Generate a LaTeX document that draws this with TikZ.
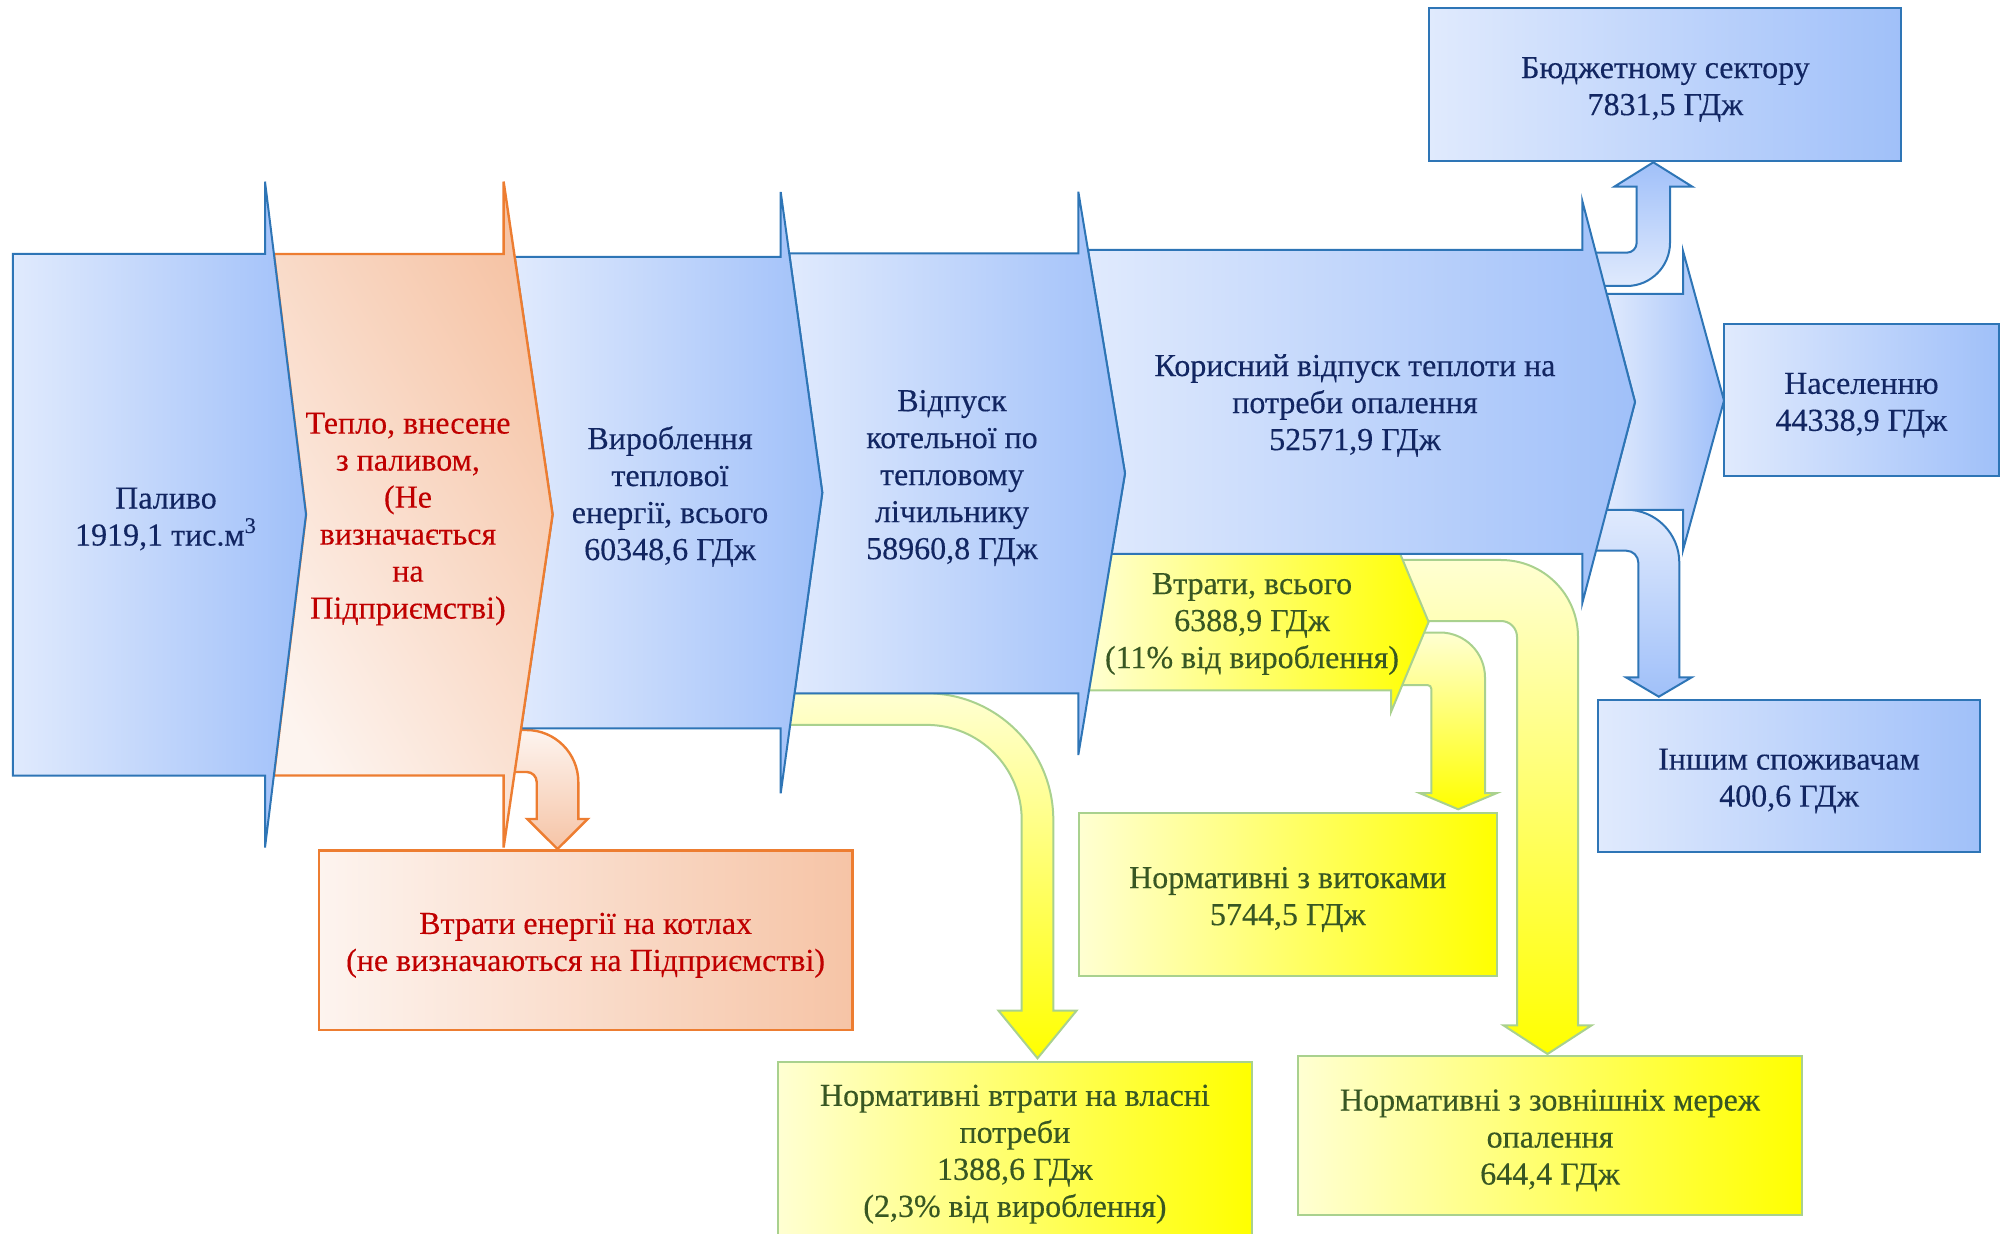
\documentclass[tikz,border=0pt]{standalone}
\usepackage{fontspec}
\setmainfont{Liberation Serif}[FakeBold=0.3]
\definecolor{blueL}{RGB}{224,234,253}
\definecolor{blueD}{RGB}{160,192,249}
\definecolor{blueLine}{RGB}{46,117,182}
\definecolor{navy}{RGB}{18,38,98}
\definecolor{orLine}{RGB}{237,125,49}
\definecolor{orL}{RGB}{253,244,239}
\definecolor{orD}{RGB}{246,196,166}
\definecolor{redT}{RGB}{192,0,0}
\definecolor{yeL}{RGB}{255,255,210}
\definecolor{yeD}{RGB}{255,255,0}
\definecolor{yeLine}{RGB}{169,209,142}
\definecolor{greenT}{RGB}{56,87,35}
\newcommand\pxu{0.5pt}
\begin{document}
\begin{tikzpicture}[x=0.5pt,y=-0.5pt,
  font=\rmfamily\fontsize{16}{18.5}\selectfont,
  bshape/.style={draw=blueLine, line width=1pt, left color=blueL, right color=blueD},
  yshape/.style={draw=yeLine, line width=1pt, left color=yeL, right color=yeD},
  bbox/.style={bshape, rectangle, inner sep=0pt},
  ybox/.style={yshape, rectangle, inner sep=0pt},
  obox/.style={draw=orLine, line width=1.2pt, left color=orL, right color=orD, rectangle, inner sep=0pt},
  tb/.style={text=navy, align=center, inner sep=0pt},
  tr/.style={text=redT, align=center, inner sep=0pt},
  tg/.style={text=greenT, align=center, inner sep=0pt},
  ybend/.style={draw=yeLine, line width=1pt, top color=yeL, bottom color=yeD},
  bbendup/.style={draw=blueLine, line width=1pt, top color=blueD, bottom color=blueL},
  bbenddown/.style={draw=blueLine, line width=1pt, top color=blueL, bottom color=blueD},
  obend/.style={draw=orLine, line width=1.2pt, top color=orL, bottom color=orD}]
\useasboundingbox (0,0) rectangle (2005,1234);
\clip (0,0) rectangle (2005,1234);

% ---------- bent arrows (behind the chevrons) ----------
% A: orange, heat -> boiler losses
\path[obend] (505,730) -- (526.3,730) arc[start angle=-90,end angle=0,radius=52]
  -- (578.3,819) -- (587.7,819) -- (557.5,849) -- (527.3,819) -- (536.7,819)
  -- (536.7,782) arc[start angle=0,end angle=-90,radius=10] -- (505,772) -- cycle;
% B: yellow, release -> own needs
\path[ybend] (785,693.3) -- (926.7,693.3) arc[start angle=-90,end angle=0,radius=126.6]
  -- (1053.3,1010.7) -- (1076.5,1010.7) -- (1037.5,1058.3) -- (998.5,1010.7) -- (1021.7,1010.7)
  -- (1021.7,819.9) arc[start angle=0,end angle=-90,radius=95] -- (785,724.9) -- cycle;
% C: yellow, losses -> leaks
\path[ybend] (1400,632.5) -- (1440,632.5) arc[start angle=-90,end angle=0,radius=45]
  -- (1485,793) -- (1497,793) -- (1458.2,809.3) -- (1419.4,793) -- (1431.4,793)
  -- (1431.4,689) arc[start angle=0,end angle=-90,radius=4] -- (1400,685) -- cycle;
% D: yellow, losses -> external networks
\path[ybend] (1395,560) -- (1501,560) arc[start angle=-90,end angle=0,radius=77]
  -- (1578,1025.4) -- (1591.5,1025.4) -- (1547.5,1054) -- (1503.5,1025.4) -- (1517,1025.4)
  -- (1517,637) arc[start angle=0,end angle=-90,radius=16] -- (1395,621) -- cycle;
% E: blue, useful -> budget sector
\path[bbendup] (1585,286) -- (1626.7,286) arc[start angle=90,end angle=0,radius=43.3]
  -- (1670,186.7) -- (1692.3,186.7) -- (1653.3,162.3) -- (1614.3,186.7) -- (1636.7,186.7)
  -- (1636.7,242.7) arc[start angle=0,end angle=90,radius=10] -- (1585,252.7) -- cycle;
% F: blue, useful -> other consumers
\path[bbenddown] (1590,509.7) -- (1626.3,509.7) arc[start angle=-90,end angle=0,radius=53]
  -- (1679.3,677.3) -- (1691.7,677.3) -- (1658.8,696.7) -- (1625.9,677.3) -- (1638.3,677.3)
  -- (1638.3,562.7) arc[start angle=0,end angle=-90,radius=12] -- (1590,550.7) -- cycle;

% ---------- chevrons ----------
% losses total (yellow)
\path[yshape] (1111.6,554) -- (1400.2,554) -- (1428.6,622) -- (1391,712) -- (1391,690.4)
  -- (1089,690.4) -- cycle;
% population chevron
\path[bshape] (1606.7,294) -- (1683,294) -- (1683,251) -- (1724,400.5) -- (1683,550)
  -- (1683,510) -- (1606.7,510) -- (1635,402) -- cycle;
% useful release
\path[bshape] (1088,250) -- (1582.3,250) -- (1582.3,201) -- (1635,402) -- (1582.3,603)
  -- (1582.3,554) -- (1111.6,554) -- (1125,473.3) -- cycle;
% release by meter
\path[bshape] (789.2,253.3) -- (1078.3,253.3) -- (1078.3,191.7) -- (1125,473.3) -- (1078.3,755)
  -- (1078.3,693.3) -- (794.5,693.3) -- (822.3,492.7) -- cycle;
% production
\path[bshape] (514.7,257) -- (780.7,257) -- (780.7,192) -- (822.3,492.7) -- (780.7,793.3)
  -- (780.7,728.3) -- (521.1,728.3) -- (552.6,514.5) -- cycle;
% heat with fuel (orange)
\path[draw=orLine, line width=1.2pt, top color=orD, bottom color=orL, shading angle=-60]
  (273.9,254) -- (503.6,254) -- (503.6,181.6) -- (552.6,514.5) -- (503.6,847.5)
  -- (503.6,775.5) -- (273.9,775.5) -- (306,514.5) -- cycle;
% fuel
\path[bshape] (12.8,254) -- (265,254) -- (265,181.6) -- (306,514.5) -- (265,847.5)
  -- (265,775.5) -- (12.8,775.5) -- cycle;

% ---------- chevron texts ----------
\node[tb] (paluvo) at (166,519) {Паливо\\1919,1 тис.м\textsuperscript{3}};
\node[tr] (teplo) at (408,519) {Тепло, внесене\\з паливом,\\(Не\\визначається\\на\\Підприємстві)};
\node[tb] (vyrob) at (670,496.5) {Вироблення\\теплової\\енергії, всього\\60348,6 ГДж};
\node[tb] (vidpusk) at (952,478) {Відпуск\\котельної по\\тепловому\\лічильнику\\58960,8 ГДж};
\node[tb] (korysn) at (1355,405.5) {Корисний відпуск теплоти на\\потреби опалення\\52571,9 ГДж};
\node[tg] (vtraty) at (1252,624) {Втрати, всього\\6388,9 ГДж\\(11\% від вироблення)};

% ---------- boxes ----------
\node[bbox, minimum width=472*\pxu, minimum height=152.3*\pxu] (budget) at (1665.4,84.55) {};
\node[tb] (budgetT) at ([yshift=-2.5pt]budget.center) {Бюджетному сектору\\7831,5 ГДж};
\node[bbox, minimum width=274.8*\pxu, minimum height=152.5*\pxu] (naselen) at (1861.4,400.25) {};
\node[tb] (naselenT) at ([yshift=-2.5pt]naselen.center) {Населенню\\44338,9 ГДж};
\node[bbox, minimum width=382*\pxu, minimum height=152*\pxu] (inshym) at (1789,776) {};
\node[tb] (inshymT) at ([yshift=-2.5pt]inshym.center) {Іншим споживачам\\400,6 ГДж};
\node[ybox, minimum width=418.4*\pxu, minimum height=163.1*\pxu] (vytoky) at (1287.8,894.45) {};
\node[tg] (vytokyT) at ([yshift=-2.5pt]vytoky.center) {Нормативні з витоками\\5744,5 ГДж};
\node[ybox, minimum width=504*\pxu, minimum height=159.3*\pxu] (zovn) at (1550,1135.35) {};
\node[tg] (zovnT) at ([yshift=-2.5pt]zovn.center) {Нормативні з зовнішніх мереж\\опалення\\644,4 ГДж};
\node[ybox, minimum width=473.2*\pxu, minimum height=177.7*\pxu] (vlasni) at (1014.9,1151.15) {};
\node[tg] (vlasniT) at ([yshift=-1.5pt]vlasni.center) {Нормативні втрати на власні\\потреби\\1388,6 ГДж\\(2,3\% від вироблення)};
\node[obox, minimum width=533.4*\pxu, minimum height=179.5*\pxu] (kotly) at (585.6,940.25) {};
\node[tr] (kotlyT) at ([yshift=-2.5pt]kotly.center) {Втрати енергії на котлах\\(не визначаються на Підприємстві)};
\end{tikzpicture}
\end{document}
